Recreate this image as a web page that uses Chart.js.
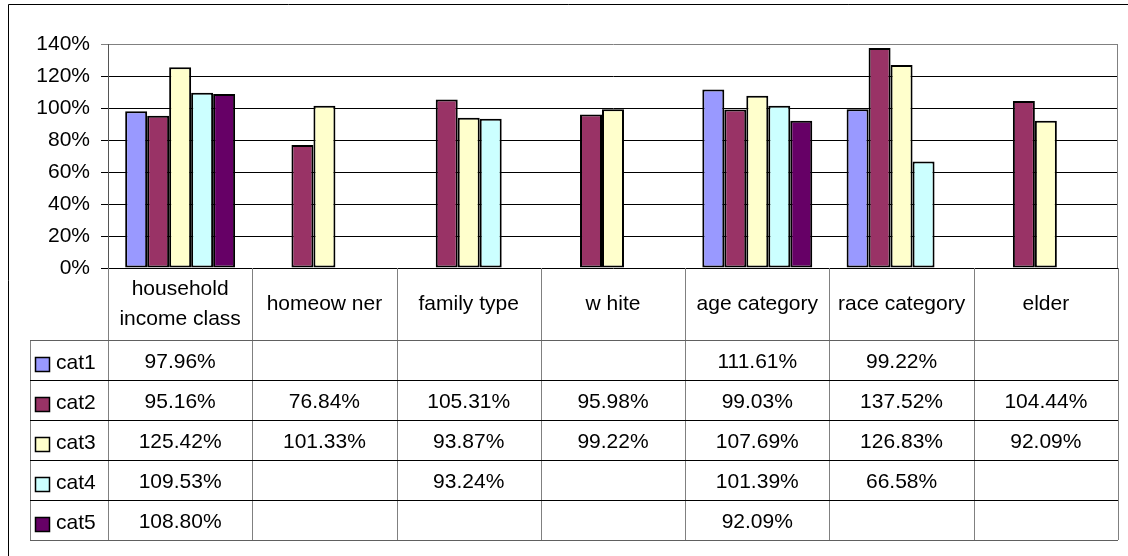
<!DOCTYPE html>
<html>
<head>
<meta charset="utf-8">
<script src="https://cdn.jsdelivr.net/npm/chart.js@4.4.0/dist/chart.umd.min.js"></script>
<style>
  html, body { margin: 0; padding: 0; background: #fff; }
  canvas { display: block; }
</style>
</head>
<body>
<canvas id="chart" width="1128" height="556"></canvas>
<script>
// categories along the x axis (arrays = wrapped header lines)
const categories = [['household', 'income class'], 'homeow ner', 'family type', 'w hite', 'age category', 'race category', 'elder'];

// series values, in percent (null = no value)
const seriesNames = ['cat1', 'cat2', 'cat3', 'cat4', 'cat5'];
const cat1 = [97.96, null, null, null, 111.61, 99.22, null];
const cat2 = [95.16, 76.84, 105.31, 95.98, 99.03, 137.52, 104.44];
const cat3 = [125.42, 101.33, 93.87, 99.22, 107.69, 126.83, 92.09];
const cat4 = [109.53, null, 93.24, null, 101.39, 66.58, null];
const cat5 = [108.80, null, null, null, 92.09, null, null];
const seriesColors = ['#9999FF', '#993366', '#FFFFCC', '#CCFFFF', '#660066'];

// y axis ticks
const yMin = 0;
const yMax = 140;
const yStep = 20;

const allSeries = [cat1, cat2, cat3, cat4, cat5];
const FONT = '"Liberation Sans", Arial, sans-serif';

const headerBottom = 340;
const rowH = 40;
const legendLeft = 30;

// draws the Excel-style data table under the plot
const dataTable = {
  id: 'dataTable',
  afterDraw(chart) {
    const ctx = chart.ctx;
    const xs = chart.scales.x;
    const a = chart.chartArea;
    const n = categories.length;
    const step = xs.getPixelForValue(1) - xs.getPixelForValue(0);
    const left = xs.getPixelForValue(0) - step / 2;
    const bottom = headerBottom + rowH * seriesNames.length;

    ctx.save();
    ctx.lineWidth = 1;

    // outer frame (top + left only are inside the picture)
    ctx.strokeStyle = '#000';
    ctx.beginPath();
    ctx.moveTo(8.5, 556);
    ctx.lineTo(8.5, 4.5);
    ctx.lineTo(1128, 4.5);
    ctx.stroke();

    // plot area right border
    ctx.strokeStyle = '#808080';
    ctx.beginPath();
    ctx.moveTo(Math.round(a.right) - 0.5, a.top);
    ctx.lineTo(Math.round(a.right) - 0.5, a.bottom);
    ctx.stroke();

    // vertical separators
    for (let i = 0; i <= n; i++) {
      const x = Math.round(left + i * step) + 0.5;
      ctx.beginPath();
      ctx.moveTo(x, a.bottom);
      ctx.lineTo(x, bottom);
      ctx.stroke();
    }
    ctx.beginPath();
    ctx.moveTo(legendLeft + 0.5, headerBottom);
    ctx.lineTo(legendLeft + 0.5, bottom);
    ctx.stroke();

    // horizontal lines
    for (let r = 0; r <= seriesNames.length; r++) {
      const y = headerBottom + r * rowH + 0.5;
      ctx.strokeStyle = (r === 0 || r === seriesNames.length) ? '#606060' : '#000';
      ctx.beginPath();
      ctx.moveTo(legendLeft, y);
      ctx.lineTo(a.right, y);
      ctx.stroke();
    }

    ctx.fillStyle = '#000';
    ctx.font = '21px ' + FONT;
    ctx.textAlign = 'center';
    ctx.textBaseline = 'alphabetic';

    // header labels
    const hMid = (a.bottom + headerBottom) / 2;
    categories.forEach((c, i) => {
      const cx = left + (i + 0.5) * step;
      const lines = Array.isArray(c) ? c : [c];
      const lh = 30;
      const y0 = hMid + 6 - (lines.length - 1) * lh / 2;
      lines.forEach((t, k) => ctx.fillText(t, cx, y0 + k * lh));
    });

    // rows
    seriesNames.forEach((name, r) => {
      const cy = headerBottom + r * rowH + rowH / 2;
      ctx.fillStyle = seriesColors[r];
      ctx.fillRect(35, cy - 3, 15, 15);
      ctx.strokeStyle = '#000';
      ctx.lineWidth = 1.5;
      ctx.strokeRect(35.5, cy - 2.5, 14, 14);
      ctx.lineWidth = 1;
      ctx.fillStyle = '#000';
      ctx.textAlign = 'left';
      ctx.fillText(name, 56, cy + 9);
      ctx.textAlign = 'center';
      allSeries[r].forEach((v, i) => {
        if (v === null) return;
        ctx.fillText(v.toFixed(2) + '%', left + (i + 0.5) * step, cy + 8);
      });
    });
    ctx.restore();
  }
};

new Chart(document.getElementById('chart'), {
  type: 'bar',
  data: {
    labels: categories,
    datasets: seriesNames.map((name, i) => ({
      label: name,
      data: allSeries[i],
      backgroundColor: seriesColors[i],
      borderColor: '#000',
      borderWidth: 2,
      borderSkipped: false,
      categoryPercentage: 0.762,
      barPercentage: 1.0
    }))
  },
  options: {
    responsive: false,
    animation: false,
    layout: { padding: { top: 44, right: 10, bottom: 288, left: 0 } },
    plugins: {
      legend: { display: false },
      tooltip: { enabled: false }
    },
    scales: {
      x: { display: false },
      y: {
        min: yMin,
        max: yMax,
        afterFit: s => { s.width = 108; },
        ticks: {
          stepSize: yStep,
          color: '#000',
          padding: 11,
          font: { family: FONT, size: 21 },
          callback: v => v + '%'
        },
        grid: {
          color: c => (c.tick && c.tick.value === yMax) ? '#808080' : '#000',
          lineWidth: 1,
          tickLength: 7
        },
        border: { color: '#555', width: 1 }
      }
    }
  },
  plugins: [dataTable]
});
</script>
</body>
</html>
